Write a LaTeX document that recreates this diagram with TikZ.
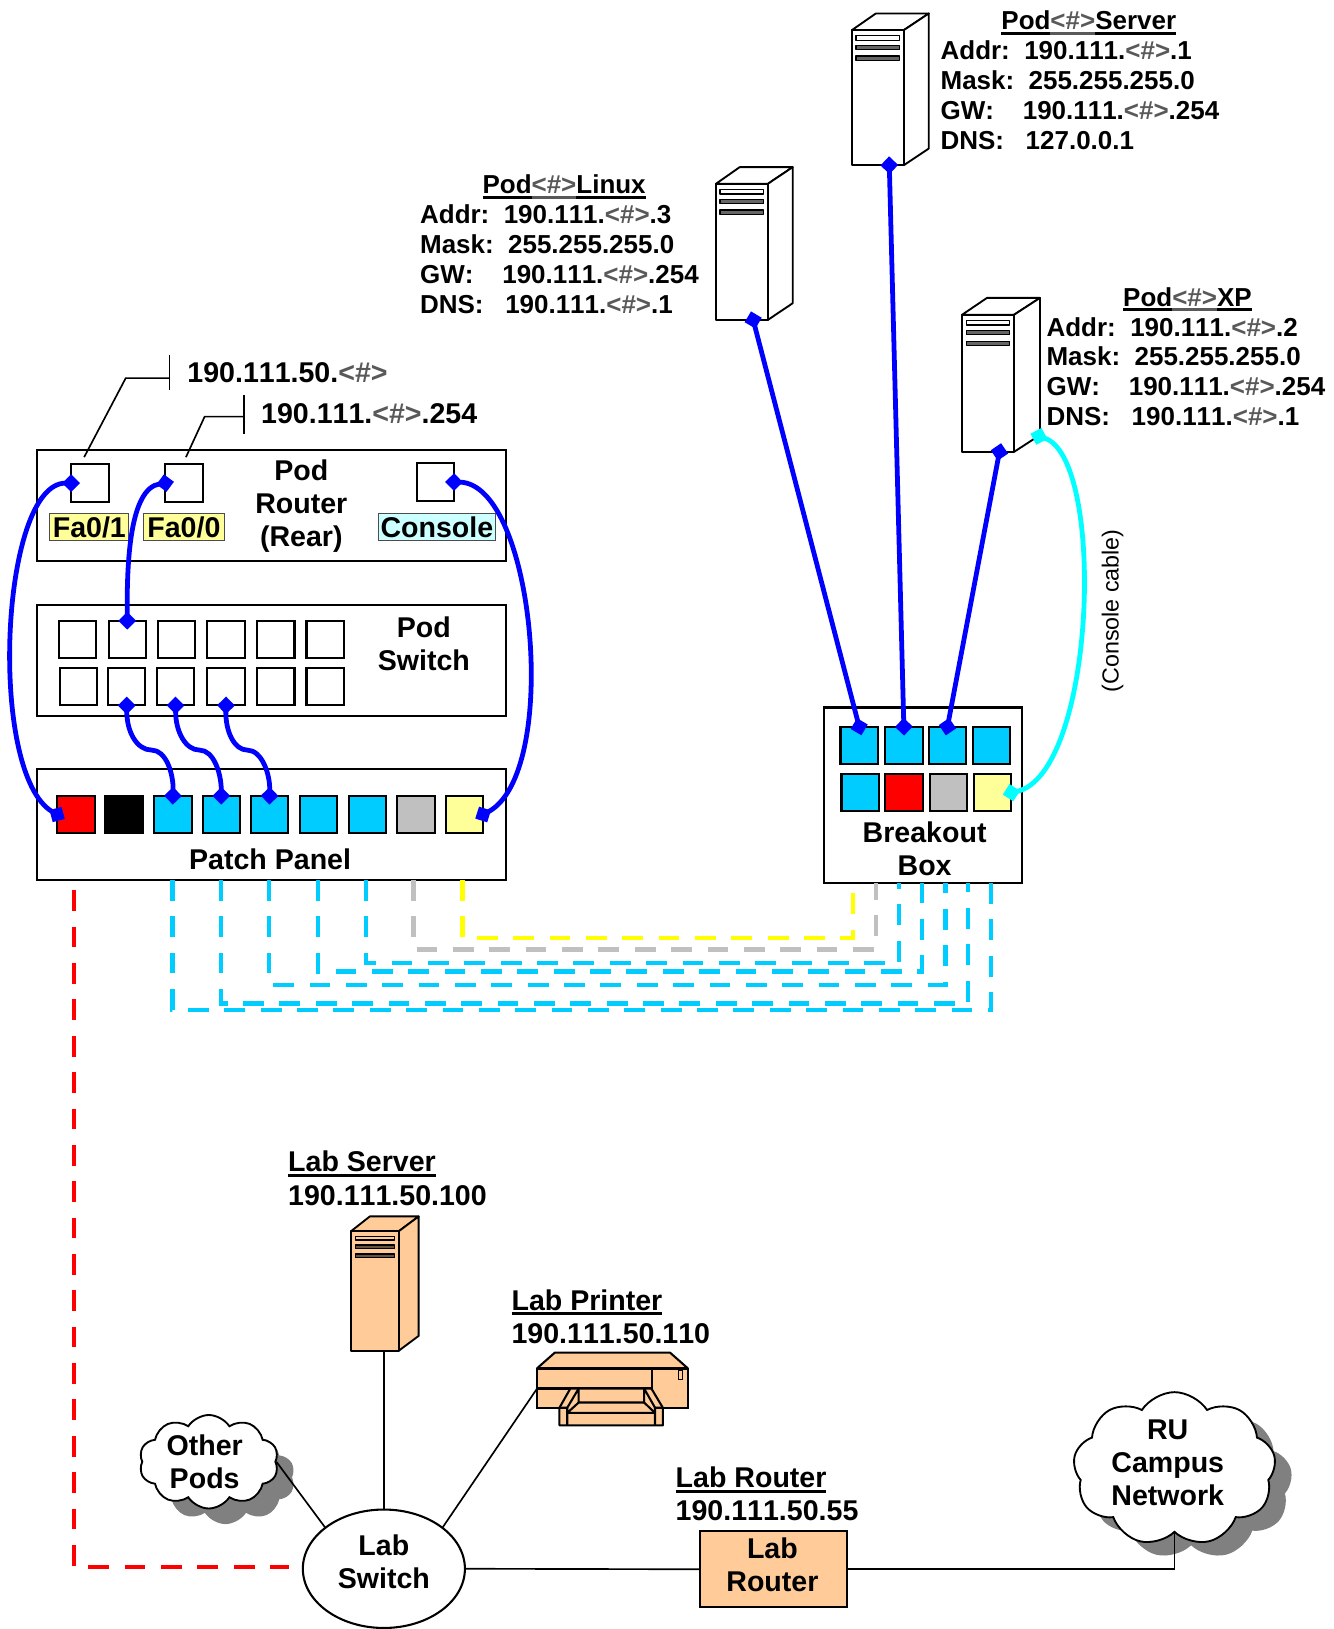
\documentclass[tikz,border=0pt]{standalone}
\usepackage{fontspec}
\setmainfont[Kerning=Off]{Liberation Sans}
\usepackage{xcolor}
\usetikzlibrary{arrows.meta,shapes.symbols,shapes.geometric,shadows}
\definecolor{patchcyan}{HTML}{00CCFF}
\definecolor{consolecyan}{HTML}{00FFFF}
\definecolor{dropyellow}{HTML}{FFFF00}
\definecolor{labpeach}{HTML}{FFCC99}
\definecolor{paleyellow}{HTML}{FFFF99}
\definecolor{palecyan}{HTML}{CCFFFF}
\definecolor{portgray}{HTML}{C0C0C0}
\definecolor{numgray}{HTML}{595959}
\newsavebox{\rulebox}
\newcommand{\ruled}[1]{\sbox{\rulebox}{#1}\rlap{\rule[-2.4pt]{\wd\rulebox}{1.3pt}}\usebox{\rulebox}}
\newcommand{\numtag}{{\color{numgray}<\#>}}
\newcommand{\rulednum}{{\color{numgray}\ruled{<\#>}}}
\newcommand{\towerbox}[7]{
  \begin{scope}[shift={(#2,#3)},yscale=#5/130,line width=0.9pt,line join=round]
    \draw[fill=#6] (0,0) -- (#7-1,16) -- (#4+#7,16) -- (#4,0) -- cycle;
    \draw[fill=#6] (#4,0) -- (#4+#7,16) -- (#4+#7,-114) -- (#4,-130) -- cycle;
    \node[draw,fill=#6,inner sep=0pt,outer sep=0pt,anchor=north west,minimum width=#4*0.5pt,minimum height=#5*0.5pt] (#1) at (0,0) {};
    \draw[fill=#6,line width=0.6pt] (4,-5.5) rectangle (#4-4,-9.7);
    \draw[fill=#6!40!black,line width=0.6pt] (4,-15) rectangle (#4-4,-19);
    \draw[fill=#6!40!black,line width=0.6pt] (4,-25) rectangle (#4-4,-29);
    \coordinate (#1-plug) at (#4-14,-130);
  \end{scope}}
\tikzset{
  boxpanel/.style={draw=black,line width=1pt,inner sep=0pt,outer sep=0pt},
  port/.style={draw=black,line width=1pt,inner sep=0pt,outer sep=0pt,minimum size=18pt},
  portname/.style={draw=black!70,line width=0.4pt,inner sep=0pt,minimum height=13pt},
  blockfont/.style={font=\fontsize{13.75}{15.8}\bfseries\selectfont,align=center,inner sep=0pt},
  titlefont/.style={font=\fontsize{12.5}{14.35}\bfseries\selectfont},
  infoblock/.style={font=\fontsize{12.5}{14.35}\bfseries\selectfont,align=left,anchor=north west,inner sep=0pt},
  cable/.style={blue,line width=2.3pt,{Diamond[length=8.5pt,width=8.5pt]}-{Diamond[length=8.5pt,width=8.5pt]},shorten <=-4.25pt,shorten >=-4.25pt},
  trunk/.style={line width=2.1pt,dash pattern=on 10pt off 7.5pt},
  thinlink/.style={black,line width=0.8pt},
  puff/.style={cloud,cloud ignores aspect,draw=black,fill=white,line width=0.9pt,inner sep=0pt}
}
\begin{document}
\begin{tikzpicture}[x=0.5pt,y=0.5pt,every node/.style={blockfont}]
  \useasboundingbox (0,0) rectangle (1284,-1568);
  % pod router
  \node[boxpanel,minimum width=225.5pt,minimum height=53.5pt] (podrouter) at (261.5,-486.5) {};
  \node[port] (rfa1) at (86.5,-465) {};
  \node[port] (rfa0) at (177,-465) {};
  \node[port] (rcon) at (419,-464) {};
  \node[portname,fill=paleyellow,minimum width=38pt] (fa1name) at (86,-507.5) {Fa0/1};
  \node[portname,fill=paleyellow,minimum width=39pt] (fa0name) at (177,-507.5) {Fa0/0};
  \node[portname,fill=palecyan,minimum width=56.5pt] (conname) at (420.5,-507.5) {Console};
  \node (routername) at (290,-487) {Pod\\Router\\(Rear)};
  \node[anchor=west] (fa1addr) at (180,-359) {190.111.50.\numtag};
  \node[anchor=west] (fa0addr) at (251,-398) {190.111.\numtag.254};
  \coordinate (fa1tick) at (163,-364);
  \coordinate (fa0tick) at (235,-401);
  \draw[thinlink] (163,-342) -- (163,-375);
  \draw[thinlink] (235,-380) -- (235,-418);
  \draw[thinlink] (81,-440) -- (121,-364) -- (fa1tick);
  \draw[thinlink] (179,-440) -- (197,-401) -- (fa0tick);
  % pod switch
  \node[boxpanel,minimum width=225.5pt,minimum height=53.5pt] (podswitch) at (261.5,-635.5) {};
  \node[port] (swa1) at (74.5,-615.5) {};
  \node[port] (swa2) at (122.5,-615.5) {};
  \node[port] (swa3) at (170,-615.5) {};
  \node[port] (swa4) at (217.5,-615.5) {};
  \node[port] (swa5) at (265.5,-615.5) {};
  \node[port] (swa6) at (313,-615.5) {};
  \node[port] (swb1) at (75.5,-661) {};
  \node[port] (swb2) at (122,-661) {};
  \node[port] (swb3) at (169,-661) {};
  \node[port] (swb4) at (217.5,-661) {};
  \node[port] (swb5) at (265.5,-661) {};
  \node[port] (swb6) at (313,-661) {};
  \node (switchname) at (408,-620) {Pod\\Switch};
  % patch panel
  \node[boxpanel,minimum width=225.5pt,minimum height=53.5pt] (patchpanel) at (261.5,-793.5) {};
  \node[port,fill=red] (pp1) at (73,-784) {};
  \node[port,fill=black] (pp2) at (119.5,-784) {};
  \node[port,fill=patchcyan] (pp3) at (166.5,-784) {};
  \node[port,fill=patchcyan] (pp4) at (213,-784) {};
  \node[port,fill=patchcyan] (pp5) at (259.5,-784) {};
  \node[port,fill=patchcyan] (pp6) at (306.5,-784) {};
  \node[port,fill=patchcyan] (pp7) at (353.5,-784) {};
  \node[port,fill=portgray] (pp8) at (400.5,-784) {};
  \node[port,fill=paleyellow] (pp9) at (447,-784) {};
  \node (panelname) at (260,-827) {Patch Panel};
  % breakout box
  \node[boxpanel,minimum width=95.5pt,minimum height=84.5pt] (breakout) at (888.5,-765.5) {};
  \node[port,fill=patchcyan] (bo1) at (827,-717.5) {};
  \node[port,fill=patchcyan] (bo2) at (870,-717.5) {};
  \node[port,fill=patchcyan] (bo3) at (912,-717.5) {};
  \node[port,fill=patchcyan] (bo4) at (954.5,-717.5) {};
  \node[port,fill=patchcyan] (bo5) at (828,-763) {};
  \node[port,fill=red] (bo6) at (870,-763) {};
  \node[port,fill=portgray] (bo7) at (913,-763) {};
  \node[port,fill=paleyellow] (bo8) at (955.5,-763) {};
  \node (breakoutname) at (890,-817) {Breakout\\Box};
  % pod machines
  \towerbox{podserver}{820}{-29}{50}{130}{white}{24}
  \towerbox{podlinux}{689}{-177}{50}{131}{white}{24}
  \towerbox{podxp}{926}{-303}{50}{132}{white}{25}
  \coordinate (xpconsole) at (1000,-420);
  \node[titlefont] (servertitle) at (1048,-22) {\ruled{Pod}\rulednum\ruled{Server}};
  \node[infoblock] (serverinfo) at (905,-39) {Addr:\ \ 190.111.\numtag.1\\Mask:\ \ 255.255.255.0\\GW:\ \ \ \ 190.111.\numtag.254\\DNS:\ \ \ 127.0.0.1};
  \node[titlefont] (linuxtitle) at (543,-180) {\ruled{Pod}\rulednum\ruled{Linux}};
  \node[infoblock] (linuxinfo) at (404,-197) {Addr:\ \ 190.111.\numtag.3\\Mask:\ \ 255.255.255.0\\GW:\ \ \ \ 190.111.\numtag.254\\DNS:\ \ \ 190.111.\numtag.1};
  \node[titlefont] (xptitle) at (1143,-288) {\ruled{Pod}\rulednum\ruled{XP}};
  \node[infoblock] (xpinfo) at (1007,-305) {Addr:\ \ 190.111.\numtag.2\\Mask:\ \ 255.255.255.0\\GW:\ \ \ \ 190.111.\numtag.254\\DNS:\ \ \ 190.111.\numtag.1};
  \node[font=\fontsize{11.2}{13}\selectfont,rotate=90] (consolenote) at (1071,-588) {(Console cable)};
  % patch cords
  \draw[cable] (rfa1.west) .. controls (0,-465) and (-12,-745) .. (pp1.west);
  \draw[cable] (rfa0.west) .. controls (125,-470) and (122,-540) .. (swa2.north);
  \draw[cable] (rcon.east) .. controls (515,-465) and (540,-745) .. (pp9.east);
  \draw[cable] (swb2.south) .. controls (122,-705) and (132,-722) .. (146,-722) .. controls (160,-722) and (167,-745) .. (pp3.north);
  \draw[cable] (swb3.south) .. controls (169,-705) and (179,-722) .. (192,-722) .. controls (206,-722) and (213,-745) .. (pp4.north);
  \draw[cable] (swb4.south) .. controls (217,-705) and (226,-722) .. (238,-722) .. controls (252,-722) and (260,-745) .. (pp5.north);
  \draw[cable] (podlinux-plug) -- (bo1.north);
  \draw[cable] (podserver-plug) -- (bo2.north);
  \draw[cable] (podxp-plug) -- (bo3.north);
  \draw[cable,consolecyan] (xpconsole) .. controls (1065,-440) and (1055,-745) .. (bo8.east);
  % trunks between panel and box
  \coordinate (drop1) at (821,-850);
  \coordinate (drop2) at (843,-850);
  \coordinate (drop3) at (865.5,-850);
  \coordinate (drop4) at (887.5,-850);
  \coordinate (drop5) at (910,-850);
  \coordinate (drop6) at (932,-850);
  \coordinate (drop7) at (954,-850);
  \draw[trunk,dropyellow] (445,-847) |- (821,-903) -- (drop1);
  \draw[trunk,portgray] (398,-847) |- (843,-914) -- (drop2);
  \draw[trunk,patchcyan] (352,-847) |- (865.5,-927) -- (drop3);
  \draw[trunk,patchcyan] (306,-847) |- (887.5,-935) -- (drop4);
  \draw[trunk,patchcyan] (259,-847) |- (910,-948) -- (drop5);
  \draw[trunk,patchcyan] (213,-847) |- (932,-966) -- (drop6);
  \draw[trunk,patchcyan] (166,-847) |- (954,-972) -- (drop7);
  % lab side
  \node[draw=black,line width=1pt,fill=white,ellipse,minimum width=78pt,minimum height=57pt,outer sep=0pt] (labswitch) at (369.5,-1510) {};
  \node (labswitchname) at (369.5,-1503) {Lab\\Switch};
  \node[boxpanel,fill=labpeach,minimum width=70.5pt,minimum height=36.5pt] (labrouter) at (744.5,-1510.5) {};
  \node (labroutername) at (743.5,-1506.5) {Lab\\Router};
  \towerbox{labserver}{338}{-1185}{46}{115}{labpeach}{19}
  \node[puff,cloud puffs=10,cloud puff arc=115,copy shadow={shadow xshift=8pt,shadow yshift=-7.5pt,fill=black!50,draw=none},minimum width=67pt,minimum height=45pt] (otherpods) at (201,-1407) {};
  \node (otherpodsname) at (197,-1407) {Other\\Pods};
  \node[puff,cloud puffs=9,cloud puff arc=115,copy shadow={shadow xshift=8pt,shadow yshift=-6.5pt,fill=black!50,draw=none},minimum width=97.5pt,minimum height=74pt] (campusnet) at (1130.5,-1414) {};
  \node (campusname) at (1124,-1408) {RU\\Campus\\Network};
  % printer
  \draw[fill=labpeach,line width=1pt,line join=round] (517,-1317) -- (534,-1302) -- (645,-1302) -- (662,-1317) -- cycle;
  \node[boxpanel,fill=labpeach,minimum width=72.5pt,minimum height=19pt] (labprinter) at (589.5,-1336.5) {};
  \draw[line width=1pt] (517,-1336.5) -- (628,-1336.5) -- (628,-1317);
  \draw[line width=0.5pt] (653,-1319.5) rectangle (656.5,-1328);
  \draw[fill=labpeach,line width=1pt,line join=round] (538.5,-1355) -- (549,-1336.5) -- (627,-1336.5) -- (638,-1355) -- (638,-1372) -- (538.5,-1372) -- cycle;
  \draw[line width=1pt,line join=round] (538.5,-1355) -- (546,-1355) -- (557,-1336.5) -- (557,-1350) -- (620,-1350) -- (620,-1336.5) -- (630.5,-1355) -- (638,-1355);
  \draw[line width=1pt,line join=round] (546,-1372) -- (546,-1355) (546,-1360) -- (557,-1350) (546,-1360) -- (630.5,-1360) -- (620,-1350) (630.5,-1355) -- (630.5,-1372);
  % labels of lab devices
  \node[anchor=west] (labservertitle) at (277,-1120.5) {\ruled{Lab Server}};
  \node[anchor=west] (labserveraddr) at (277,-1151) {190.111.50.100};
  \node[anchor=west] (labprintertitle) at (492,-1253.5) {\ruled{Lab Printer}};
  \node[anchor=west] (labprinteraddr) at (492,-1284) {190.111.50.110};
  \node[anchor=west] (labroutertitle) at (650,-1424.5) {\ruled{Lab Router}};
  \node[anchor=west] (labrouteraddr) at (650,-1454) {190.111.50.55};
  % lab links
  \draw[thinlink] (labswitch.north) -- (labswitch.north |- labserver.south);
  \draw[thinlink] (labswitch.35) -- (labprinter.west);
  \draw[thinlink] (labswitch.145) -- (otherpods.east);
  \draw[thinlink] (labswitch.east) -- (labrouter.west);
  \draw[thinlink] (labrouter.east) -| (campusnet.south);
  \coordinate (redhead) at (71,-857);
  \coordinate (redtail) at (278,-1508);
  \draw[trunk,red] (redhead) |- (redtail);
\end{tikzpicture}
\end{document}
